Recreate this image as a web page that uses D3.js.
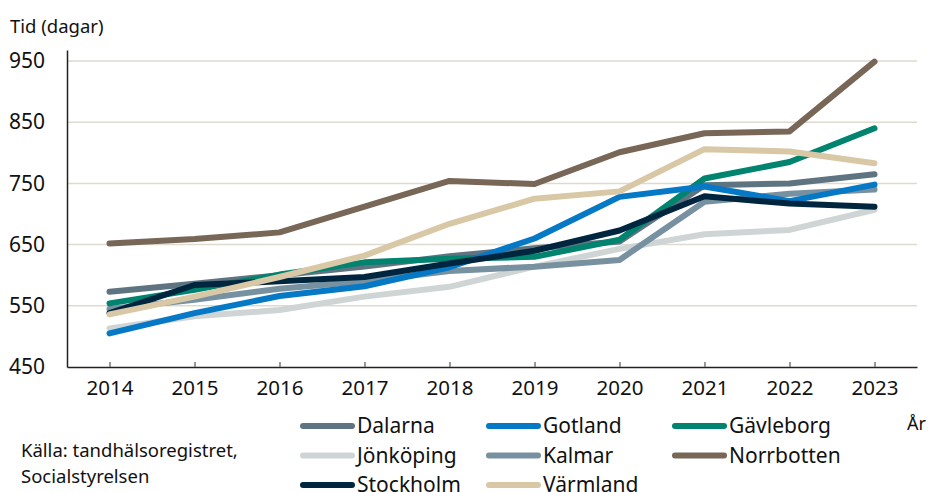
<!DOCTYPE html>
<html>
<head>
<meta charset="utf-8">
<script src="https://cdn.jsdelivr.net/npm/d3@7"></script>
<style>
  body { margin: 0; background: #fff; }
  text { font-family: "Noto Sans", sans-serif; fill: #111; }
</style>
</head>
<body>
<svg id="chart" width="928" height="492"></svg>
<script>
// data
years = [2014, 2015, 2016, 2017, 2018, 2019, 2020, 2021, 2022, 2023];
yTicks = [450, 550, 650, 750, 850, 950];

regions = ["Dalarna", "Gotland", "Gävleborg", "Jönköping", "Kalmar", "Norrbotten", "Stockholm", "Värmland"];
colours = ["#5f7481", "#0578c6", "#00836f", "#cfd5d5", "#7891a1", "#786656", "#00263f", "#d9c8a6"];

dalarna    = [573, 586, 600, 614, 631, 644, 655, 747, 750, 765];
gotland    = [505, 538, 566, 582, 613, 660, 728, 745, 721, 748];
gavleborg  = [554, 576, 601, 621, 627, 630, 658, 758, 785, 840];
jonkoping  = [513, 533, 543, 565, 581, 614, 643, 667, 674, 707];
kalmar     = [545, 560, 578, 590, 607, 614, 625, 720, 733, 740];
norrbotten = [652, 659, 670, 712, 754, 749, 801, 832, 835, 949];
stockholm  = [538, 584, 590, 597, 619, 640, 673, 729, 717, 712];
varmland   = [536, 565, 597, 632, 684, 725, 737, 806, 802, 783];

seriesValues = [dalarna, gotland, gavleborg, jonkoping, kalmar, norrbotten, stockholm, varmland];
// drawing order (back to front) as in the picture
drawOrder = [3, 4, 0, 2, 1, 6, 7, 5];

svg = d3.select("#chart");

plotLeft = 67; plotRight = 917; plotTop = 50; plotBottom = 367;

x = d3.scalePoint().domain(years).range([plotLeft, plotRight]).padding(0.5);
y = d3.scaleLinear().domain([450, 968]).range([plotBottom, plotTop]);

// gridlines
svg.append("g")
    .selectAll("line")
    .data(yTicks.filter(d => d > 450)).enter()
    .append("line")
    .attr("x1", plotLeft).attr("x2", plotRight)
    .attr("y1", d => y(d)).attr("y2", d => y(d))
    .attr("stroke", "#dddbd0")
    .attr("stroke-width", 1.5);

// y axis
yAxis = svg.append("g")
    .attr("transform", "translate(" + plotLeft + ",0)")
    .call(d3.axisLeft(y).tickValues(yTicks).tickSize(0).tickPadding(22));
yAxis.select(".domain").attr("stroke", "#222").attr("stroke-width", 1.5);
yAxis.selectAll("text").style("font-size", "21px").attr("fill", "#111");

// x axis with short inward ticks
xAxis = svg.append("g")
    .attr("transform", "translate(0," + plotBottom + ")")
    .call(d3.axisBottom(x).tickSizeInner(-5).tickSizeOuter(0).tickPadding(16));
xAxis.select(".domain").attr("stroke", "#222").attr("stroke-width", 1.5);
xAxis.selectAll(".tick line").attr("stroke", "#777").attr("stroke-width", 1.5);
xAxis.selectAll("text").style("font-size", "20.5px").attr("fill", "#111").attr("dy", "0.6em");

// lines
line = d3.line()
    .x((d, i) => x(years[i]))
    .y(d => y(d));

svg.append("g")
    .selectAll("path")
    .data(drawOrder).enter()
    .append("path")
    .attr("d", i => line(seriesValues[i]))
    .attr("fill", "none")
    .attr("stroke", i => colours[i])
    .attr("stroke-width", 6)
    .attr("stroke-linecap", "round")
    .attr("stroke-linejoin", "round");

// titles
svg.append("text")
    .text("Tid (dagar)")
    .attr("x", 10).attr("y", 33)
    .style("font-size", "18.5px");

svg.append("text")
    .text("År")
    .attr("x", 907).attr("y", 430)
    .style("font-size", "18px");

svg.append("text")
    .text("Källa: tandhälsoregistret,")
    .attr("x", 21).attr("y", 457)
    .style("font-size", "18.5px");
svg.append("text")
    .text("Socialstyrelsen")
    .attr("x", 21).attr("y", 483)
    .style("font-size", "18.5px");

// legend
legend = svg.append("g")
    .selectAll("g")
    .data(regions).enter()
    .append("g")
    .attr("transform", (d, i) => {
        return "translate(" + (300 + (i % 3) * 186) + "," + (426 + Math.floor(i / 3) * 29.5) + ")";
    });
legend.append("line")
    .attr("x1", 3).attr("x2", 52)
    .attr("stroke", (d, i) => colours[i])
    .attr("stroke-width", 6)
    .attr("stroke-linecap", "round");
legend.append("text")
    .text(d => d)
    .attr("x", 57)
    .attr("dy", "0.35em")
    .style("font-size", "21px");
</script>
</body>
</html>
